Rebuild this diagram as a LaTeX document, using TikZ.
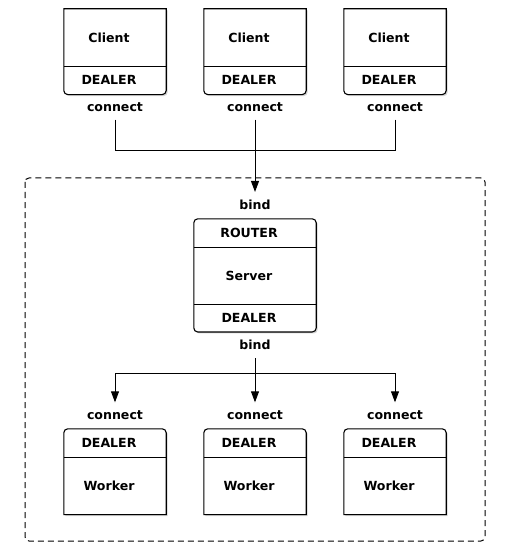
\documentclass[tikz,border=0pt]{standalone}
\usepackage{fontspec}
\setmainfont{DejaVu Sans}
\usetikzlibrary{arrows.meta,shadows,backgrounds}

\tikzset{
  cell/.style={minimum width=102bp, inner sep=0pt, font=\bfseries\fontsize{12.6}{14}\selectfont,
    execute at end node=\hspace*{12bp}},
  tag/.style={inner xsep=0pt, inner ysep=8bp, font=\bfseries\fontsize{12.6}{14}\selectfont},
  frame/.style={draw, line width=1.1bp, fill=white,
    drop shadow={shadow xshift=1.5bp, shadow yshift=-1.5bp, opacity=0.35}},
  wire/.style={line width=0.9bp},
  flow/.style={wire, -{Triangle[width=8bp,length=11bp]}},
  zone/.style={draw, line width=1bp, dash pattern=on 6bp off 4bp, rounded corners=4bp},
}

% client: name, x
\newcommand\clientbox[2]{%
  \node[cell, minimum height=57bp] (#1) at (#2,37.5) {Client};
  \node[cell, minimum height=28bp, anchor=north] (#1s) at (#1.south) {DEALER};
  \node[tag] (#1c) at (#2,107) {connect};
  \begin{scope}[on background layer]
    \draw[frame] (#1.north west) -- (#1.north east) -- (#1s.east) [rounded corners=4bp]
      -- (#1s.south east) -- (#1s.south west) -- (#1s.west) [sharp corners] -- cycle;
  \end{scope}
  \draw[wire] (#1.south west) -- (#1.south east);
}

% worker: name, x
\newcommand\workerbox[2]{%
  \node[cell, minimum height=28bp] (#1s) at (#2,443) {DEALER};
  \node[cell, minimum height=57bp, anchor=north] (#1) at (#1s.south) {Worker};
  \node[tag] (#1c) at (#2,415) {connect};
  \begin{scope}[on background layer]
    \draw[frame] (#1.south west) -- (#1.south east) -- (#1s.east) [rounded corners=4bp]
      -- (#1s.north east) -- (#1s.north west) -- (#1s.west) [sharp corners] -- cycle;
  \end{scope}
  \draw[wire] (#1s.south west) -- (#1s.south east);
}

\begin{document}
\begin{tikzpicture}[x=1bp,y=-1bp]
\useasboundingbox (0,0) rectangle (511,550);
\draw[zone] (25,178) rectangle (485,541);

% clients
\clientbox{cA}{115}
\clientbox{cB}{255}
\clientbox{cC}{395}

% server
\node[tag] (topbind) at (255,205) {bind};
\node[cell, minimum width=122bp, minimum height=28bp] (router) at (255,233) {ROUTER};
\node[cell, minimum width=122bp, minimum height=57bp, anchor=north] (server) at (router.south) {Server};
\node[cell, minimum width=122bp, minimum height=27bp, anchor=north] (srvdealer) at (server.south) {DEALER};
\node[tag] (lowbind) at (255,345) {bind};
\begin{scope}[on background layer]
  \draw[frame, rounded corners=4bp] (router.north west) rectangle (srvdealer.south east);
\end{scope}
\draw[wire] (router.south west) -- (router.south east);
\draw[wire] (srvdealer.north west) -- (srvdealer.north east);

% workers
\workerbox{wA}{115}
\workerbox{wB}{255}
\workerbox{wC}{395}

% connectors
\coordinate (join) at (255,150);
\coordinate (split) at (255,373);
\draw[wire] (cAc) |- (join);
\draw[wire] (cCc) |- (join);
\draw[flow] (cBc) -- (topbind);
\draw[wire] (lowbind) -- (split);
\draw[flow] (split) -| (wAc);
\draw[flow] (split) -| (wCc);
\draw[flow] (lowbind) -- (wBc);
\end{tikzpicture}
\end{document}
